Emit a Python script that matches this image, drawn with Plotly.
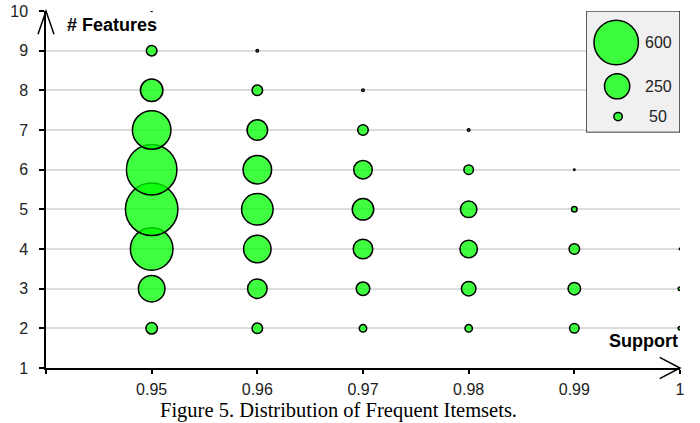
import plotly.graph_objects as go

# ---- data ----
support_levels = [0.95, 0.96, 0.97, 0.98, 0.99, 1.00]
features_by_support = {
    0.95: [2, 3, 4, 5, 6, 7, 8, 9, 10],
    0.96: [2, 3, 4, 5, 6, 7, 8, 9],
    0.97: [2, 3, 4, 5, 6, 7, 8],
    0.98: [2, 3, 4, 5, 6, 7],
    0.99: [2, 3, 4, 5, 6],
    1.00: [2, 3, 4],
}
counts_095 = [78, 270, 560, 778, 732, 480, 210, 69, 4]
counts_096 = [69, 170, 285, 352, 301, 183, 69, 12]
counts_097 = [43, 99, 170, 196, 157, 69, 12]
counts_098 = [43, 109, 144, 132, 60, 12]
counts_099 = [60, 88, 69, 29, 7]
counts_100 = [17, 17, 7]
counts = [counts_095, counts_096, counts_097, counts_098, counts_099, counts_100]

legend_values = [600, 250, 50]
legend_labels = ["600", "250", "50"]

x_tick_vals = [0.94, 0.95, 0.96, 0.97, 0.98, 0.99, 1.00]
x_tick_text = ["", "0.95", "0.96", "0.97", "0.98", "0.99", "1"]
y_tick_vals = list(range(1, 11))

# ---- size scale (diameter grows with count^0.62) ----
def bubble_px(v):
    return max(0.871 * v ** 0.62 - 1.5, 1.0)

FILL = "rgba(0,255,0,0.75)"

xs, ys, ss = [], [], []
for s, c in zip(support_levels, counts):
    for f, v in zip(features_by_support[s], c):
        xs.append(s)
        ys.append(f)
        ss.append(bubble_px(v))

fig = go.Figure()
fig.add_trace(go.Scatter(
    x=xs, y=ys, mode="markers",
    marker=dict(size=ss, sizemode="diameter", color=FILL, opacity=1,
                line=dict(color="black", width=1.5)),
    hoverinfo="x+y", showlegend=False, xaxis="x", yaxis="y",
))

# legend key (own small subplot)
leg_y = [0.74, 0.38, 0.13]
fig.add_trace(go.Scatter(
    x=[0.32, 0.33, 0.34], y=leg_y, mode="markers",
    marker=dict(size=[bubble_px(v) for v in legend_values], sizemode="diameter",
                color=FILL, opacity=1, line=dict(color="black", width=1.5)),
    hoverinfo="skip", showlegend=False, xaxis="x2", yaxis="y2", cliponaxis=False,
))

font_tick = dict(family="Liberation Sans, Arial, sans-serif", size=16, color="#222")

fig.update_layout(
    width=700, height=423,
    margin=dict(l=46, r=20, t=11, b=55, autoexpand=False),
    paper_bgcolor="white", plot_bgcolor="rgba(0,0,0,0)",
    xaxis=dict(range=[0.94, 1.0], domain=[0, 1], tickvals=x_tick_vals, ticktext=x_tick_text,
               showgrid=False, zeroline=False, showline=True, linecolor="black", linewidth=1.5,
               ticks="outside", ticklen=4, tickwidth=1.5, tickcolor="black", automargin=False,
               tickfont=font_tick, ticklabelstandoff=2),
    yaxis=dict(range=[1, 10], domain=[0, 1], tickvals=y_tick_vals,
               showgrid=True, gridcolor="#dcdcdc", gridwidth=1.5, zeroline=False,
               showline=True, linecolor="black", linewidth=1.5, automargin=False,
               ticks="outside", ticklen=5, tickwidth=1.5, tickcolor="black",
               tickfont=font_tick, ticklabelstandoff=8),
    xaxis2=dict(range=[0, 1], domain=[0.852, 1.0], visible=False, fixedrange=True),
    yaxis2=dict(range=[0, 1], domain=[0.66, 1.0], visible=False, fixedrange=True),
    shapes=[
        # legend box
        dict(type="rect", xref="x2", yref="y2", x0=0, x1=1, y0=0, y1=1,
             fillcolor="#f0f0f0", line=dict(color="black", width=1.2), layer="below"),
        # y-axis arrow head
        dict(type="path", xref="paper", yref="paper",
             path="M -0.0126,0.935 L 0,1 L 0.0126,0.935",
             line=dict(color="black", width=1.5)),
        # x-axis arrow head
        dict(type="path", xref="paper", yref="paper",
             path="M 0.968,0.03 L 1,0 L 0.968,-0.03",
             line=dict(color="black", width=1.5)),
    ],
    annotations=[
        dict(text="<b># Features</b>", xref="paper", yref="paper", x=0.03, y=0.962,
             xanchor="left", yanchor="middle", showarrow=False,
             font=dict(family="Liberation Sans, Arial, sans-serif", size=18, color="black")),
        dict(text="<b>Support</b>", xref="paper", yref="paper", x=1.0, y=0.075,
             xanchor="right", yanchor="middle", showarrow=False,
             font=dict(family="Liberation Sans, Arial, sans-serif", size=18, color="black")),
        dict(text="Figure 5. Distribution of Frequent Itemsets.", xref="paper", yref="paper",
             x=0.462, y=-0.118, xanchor="center", yanchor="middle", showarrow=False,
             font=dict(family="Liberation Serif, Times New Roman, serif", size=20.5, color="black")),
    ] + [
        dict(text=t, xref="x2", yref="y2", x=0.77, y=yy, xanchor="center", yanchor="middle",
             showarrow=False, font=font_tick)
        for t, yy in zip(legend_labels, leg_y)
    ],
)

fig.write_html(
    "out.html",
    config={"displayModeBar": False},
    post_script="document.body.style.margin='0';document.body.style.padding='0';",
)
